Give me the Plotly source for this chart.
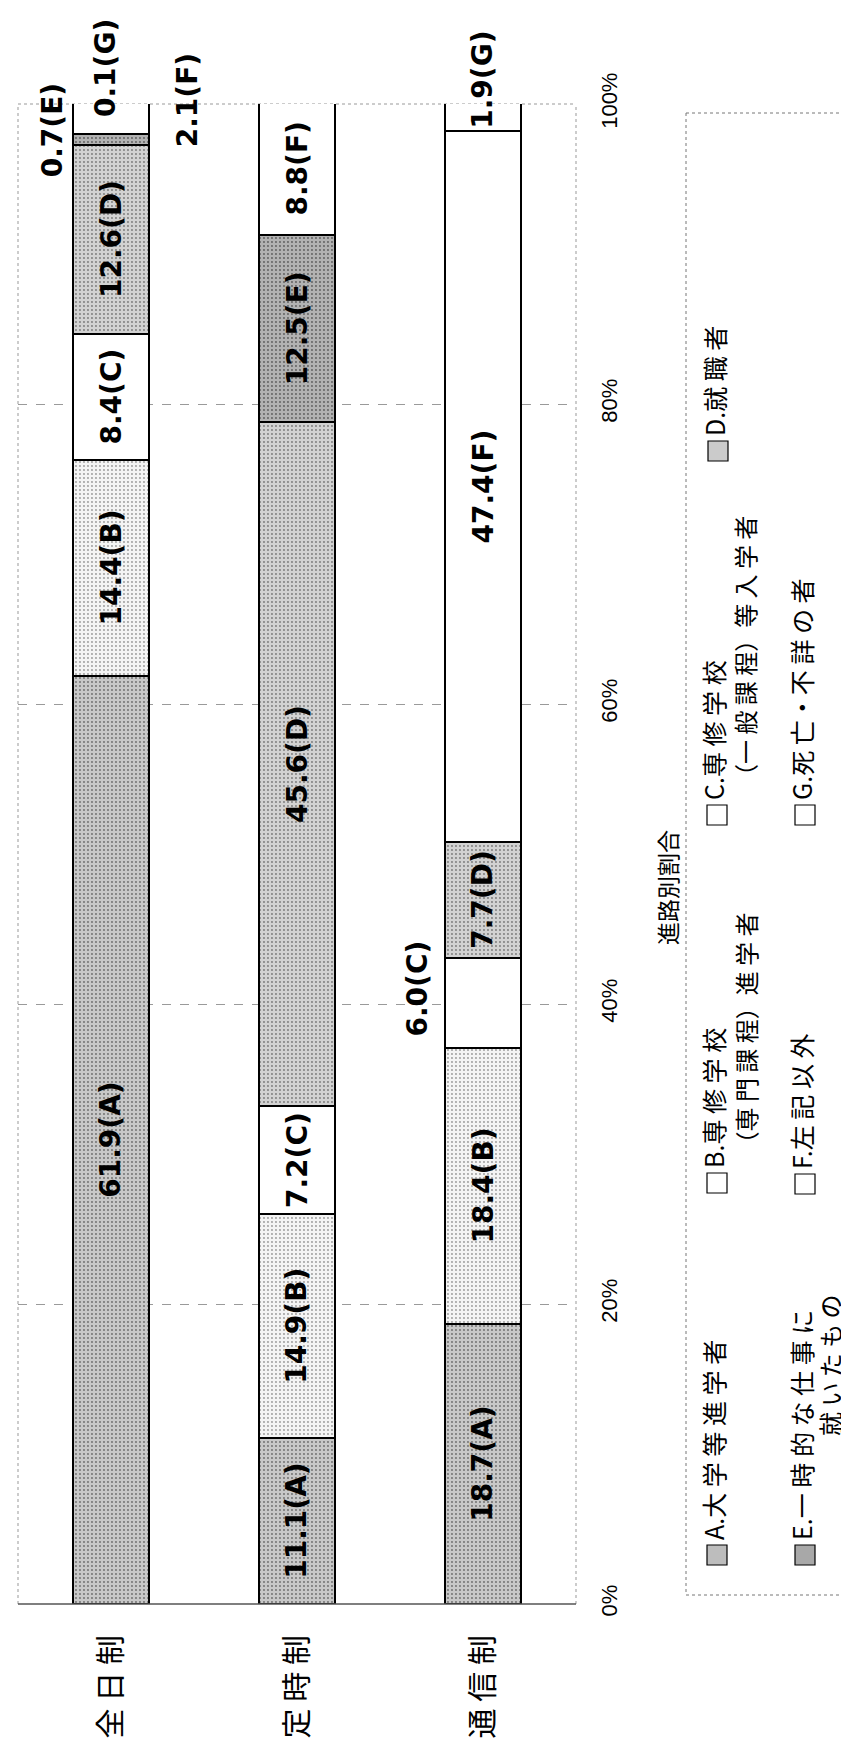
import plotly.graph_objects as go

# ---------------- data ----------------
categories = ["全日制", "定時制", "通信制"]
category_labels = ["全 日 制", "定 時 制", "通 信 制"]
series_letters = ["A", "B", "C", "D", "E", "F", "G"]
A_vals = [61.9, 11.1, 18.7]
B_vals = [14.4, 14.9, 18.4]
C_vals = [8.4, 7.2, 6.0]
D_vals = [12.6, 45.6, 7.7]
E_vals = [0.7, 12.5, 0.0]
F_vals = [2.1, 8.8, 47.4]
G_vals = [0.1, 0.0, 1.9]
series_values = [A_vals, B_vals, C_vals, D_vals, E_vals, F_vals, G_vals]
tick_vals = [0, 20, 40, 60, 80, 100]
tick_text = ["0%", "20%", "40%", "60%", "80%", "100%"]
axis_title = "進路別割合"

# legend lines: (letter, first line, second line)
legend_items = [
    ("A", "A.大 学 等 進 学 者", None),
    ("B", "B.専 修 学 校", "（専 門 課 程）進 学 者"),
    ("C", "C.専 修 学 校", "（一 般 課 程）等 入 学 者"),
    ("D", "D.就 職 者", None),
    ("E", "E.一 時 的 な 仕 事 に", "就 い た も の"),
    ("F", "F.左 記 以 外", None),
    ("G", "G.死 亡・不 詳 の 者", None),
]

# ---------------- style ----------------
W, H = 849, 1749
ML, MR, MT, MB = 10, 281, 96, 153
PW, PH = W - ML - MR, H - MT - MB

# (background, stipple colour) per series
fills = {"A": ("#c8c8c8", "#6e6e6e"), "B": ("#f4f4f4", "#9a9a9a"),
         "C": ("#ffffff", None), "D": ("#d2d2d2", "#7a7a7a"),
         "E": ("#b2b2b2", "#5e5e5e"), "F": ("#ffffff", None), "G": ("#ffffff", None)}
legend_sq = {"A": "#bdbdbd", "B": "#ffffff", "C": "#ffffff", "D": "#cbcbcb",
             "E": "#a8a8a8", "F": "#ffffff", "G": "#ffffff"}

# pixel offsets for labels placed outside / shifted
label_shift = {
    (0, "G"): (-6, 36),
    (0, "F"): (76, 18),
    (0, "E"): (-59, 9),
    (2, "G"): (0, 37),
    (2, "C"): (-66, 14),
}

LABEL_FONT = dict(family="DejaVu Sans", size=28, color="black", weight="bold")
JP = "Noto Sans CJK JP"
TXT_DX = -4  # rotated CJK text box offset compensation


def px2x(px):
    return (px - ML) / PW


def py2y(py):
    return (H - MB - py) / PH


fig = go.Figure()
for letter, vals in zip(series_letters, series_values):
    bg, fg = fills[letter]
    marker = dict(color=bg, line=dict(color="black", width=2))
    if fg:
        marker["pattern"] = dict(shape=".", bgcolor=bg, fgcolor=fg, size=4,
                                 solidity=0.18, fillmode="replace")
    fig.add_trace(go.Bar(x=categories, y=vals, name=letter, marker=marker,
                         hoverinfo="skip"))

annotations = []
# value labels
for ci, cat in enumerate(categories):
    base = 0.0
    for letter, vals in zip(series_letters, series_values):
        v = vals[ci]
        if v > 0:
            center = base + v / 2
            xs, ys = label_shift.get((ci, letter), (0, 0))
            annotations.append(dict(
                x=cat, y=min(center, 100), xref="x", yref="y",
                text=f"{v:.1f}({letter})", textangle=-90, showarrow=False,
                xanchor="center", yanchor="middle", xshift=xs, yshift=ys,
                font=LABEL_FONT,
            ))
        base += v

# axis title
annotations.append(dict(
    x=px2x(663 + TXT_DX), y=py2y(880), xref="paper", yref="paper", text=axis_title,
    textangle=-90, showarrow=False, xanchor="center", yanchor="middle",
    font=dict(family=JP, size=23, color="black"),
))

shapes = []
# legend layout (pixel positions): square centre x, square bottom y, 2nd line x
leg_pos = {
    "A": (709, 1557, 741), "B": (709, 1185, 741), "C": (709, 817, 740),
    "D": (710, 453, 741), "E": (797, 1557, 825), "F": (797, 1186, 825),
    "G": (797, 817, 825),
}
second_line_pos = {"B": ("bottom", 1150), "C": ("bottom", 782), "E": ("top", 1284)}
for letter, l1, l2 in legend_items:
    cx, sq_bottom, cx2 = leg_pos[letter]
    shapes.append(dict(type="rect", xref="paper", yref="paper",
                       x0=px2x(cx - 10), x1=px2x(cx + 10),
                       y0=py2y(sq_bottom), y1=py2y(sq_bottom - 20),
                       fillcolor=legend_sq[letter], line=dict(color="black", width=1.2)))
    annotations.append(dict(
        x=px2x(cx + TXT_DX), y=py2y(sq_bottom - 23), xref="paper", yref="paper",
        text=l1, textangle=-90, showarrow=False, xanchor="center", yanchor="bottom",
        font=dict(family=JP, size=25, color="black"),
    ))
    if l2:
        anc, yy = second_line_pos[letter]
        annotations.append(dict(
            x=px2x(cx2 + TXT_DX), y=py2y(yy), xref="paper", yref="paper",
            text=l2, textangle=-90, showarrow=False, xanchor="center", yanchor=anc,
            font=dict(family=JP, size=24, color="black"),
        ))

# legend box (dotted)
for (x0, y0, x1, y1) in [(678, 105, 849, 105), (678, 105, 678, 1587), (678, 1587, 849, 1587)]:
    shapes.append(dict(type="line", xref="paper", yref="paper",
                       x0=px2x(x0), y0=py2y(y0), x1=px2x(x1), y1=py2y(y1),
                       line=dict(color="#777", width=1, dash="dot")))

# plot frame
shapes += [
    dict(type="line", xref="paper", yref="paper", x0=0, x1=1, y0=1, y1=1,
         line=dict(color="#999", width=1, dash="dot"), layer="below"),
    dict(type="line", xref="paper", yref="paper", x0=0, x1=0, y0=0, y1=1,
         line=dict(color="#999", width=1, dash="dot"), layer="below"),
    dict(type="line", xref="paper", yref="paper", x0=1, x1=1, y0=0, y1=1,
         line=dict(color="#999", width=1, dash="dot"), layer="below"),
    dict(type="line", xref="paper", yref="paper", x0=0, x1=1, y0=0, y1=0,
         line=dict(color="#555", width=1.5)),
]

fig.update_layout(
    width=W, height=H,
    margin=dict(l=ML, r=MR, t=MT, b=MB, pad=0),
    barmode="stack", bargap=0.59,
    showlegend=False,
    plot_bgcolor="white", paper_bgcolor="white",
    annotations=annotations, shapes=shapes,
    xaxis=dict(
        tickmode="array", tickvals=categories, ticktext=category_labels,
        tickangle=-90, tickfont=dict(family=JP, size=30, color="black"),
        ticks="", showgrid=False, showline=False, zeroline=False,
        ticklabelstandoff=24,
    ),
    yaxis=dict(
        range=[0, 100], side="right", tickmode="array",
        tickvals=tick_vals, ticktext=tick_text, tickangle=-90,
        tickfont=dict(family="Liberation Sans", size=22, color="black"),
        ticks="", showgrid=True, gridcolor="#9a9a9a", gridwidth=1,
        griddash="dash", zeroline=False, showline=False,
        ticklabelstandoff=18,
    ),
)

fig.write_html("out.html")
